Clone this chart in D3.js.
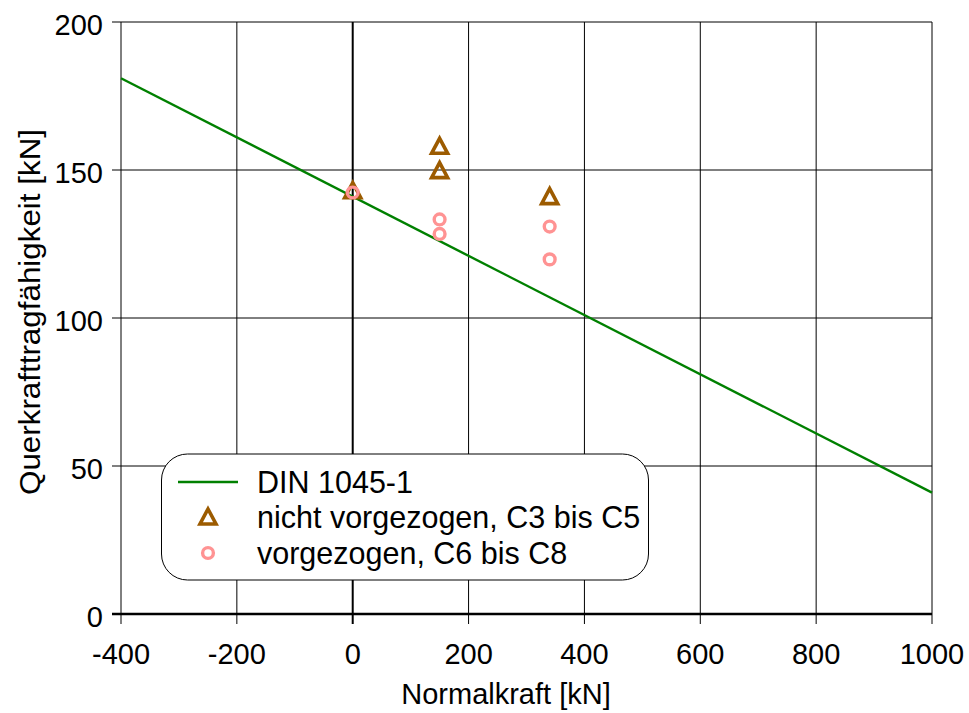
<!DOCTYPE html>
<html><head><meta charset="utf-8">
<script src="https://cdn.jsdelivr.net/npm/d3@7"></script>
<style>body{margin:0;background:#fff}svg{display:block}text{font-family:"Liberation Sans",Arial,sans-serif}</style>
</head><body>
<svg id="c" width="969" height="713"></svg>
<script>
const xTicks = [-400,-200,0,200,400,600,800,1000];
const yTicks = [0,50,100,150,200];
const dinN = [-400, 1000];
const dinV = [181, 41];
const triN = [0, 150, 150, 340];
const triV = [143, 158, 149.8, 141];
const cirN = [0, 150, 150, 340, 340];
const cirV = [142.4, 133.3, 128.4, 130.9, 119.8];
const legendLabels = ["DIN 1045-1", "nicht vorgezogen, C3 bis C5", "vorgezogen, C6 bis C8"];
const lineColor = "#008000", triColor = "#9c5b00", cirColor = "#ff9393";

const svg = d3.select("#c");
const x = d3.scaleLinear().domain([-400,1000]).range([121,932]);
const y = d3.scaleLinear().domain([0,200]).range([614,22]);
const FS = 29;

// grid
const g = svg.append("g");
g.selectAll(".vx").data(xTicks).join("line")
  .attr("x1",d=>x(d)).attr("x2",d=>x(d)).attr("y1",y(200)).attr("y2",y(0)+10)
  .attr("stroke","#000").attr("stroke-width",d=>d===0?2:1);
g.selectAll(".hy").data(yTicks).join("line")
  .attr("y1",d=>y(d)).attr("y2",d=>y(d)).attr("x1",x(-400)-9).attr("x2",x(1000))
  .attr("stroke","#000").attr("stroke-width",d=>d===0?2.5:1);

// axes labels
svg.append("g").selectAll("text").data(yTicks).join("text")
  .attr("x",103).attr("y",d=>y(d)+3).attr("dy","0.36em").attr("text-anchor","end")
  .attr("font-size",FS).text(d=>d);
svg.append("g").selectAll("text").data(xTicks).join("text")
  .attr("x",d=>x(d)).attr("y",654).attr("dy","0.36em").attr("text-anchor","middle")
  .attr("font-size",FS).text(d=>d);
svg.append("text").attr("x",506).attr("y",694).attr("dy","0.36em").attr("text-anchor","middle")
  .attr("font-size",FS).text("Normalkraft [kN]");
svg.append("text").attr("transform","translate(30,312) rotate(-90)").attr("dy","0.36em")
  .attr("text-anchor","middle").attr("font-size",FS)
  .attr("textLength",366).attr("lengthAdjust","spacingAndGlyphs").text("Querkrafttragfähigkeit [kN]");

// line
const line = d3.line().x((d,i)=>x(dinN[i])).y((d,i)=>y(dinV[i]));
svg.append("path").attr("d",line(dinN)).attr("fill","none").attr("stroke",lineColor).attr("stroke-width",2.4);

const triPath = (cx,cy)=>{const h=14,w=16;return `M${cx},${cy-h/2-1}L${cx+w/2},${cy+h/2}L${cx-w/2},${cy+h/2}Z`;};
svg.append("g").selectAll("path").data(triN).join("path")
  .attr("d",(d,i)=>triPath(x(d),y(triV[i])))
  .attr("fill","none").attr("stroke",triColor).attr("stroke-width",3.6).attr("stroke-linejoin","miter");
svg.append("g").selectAll("circle").data(cirN).join("circle")
  .attr("cx",d=>x(d)).attr("cy",(d,i)=>y(cirV[i])).attr("r",5.4)
  .attr("fill","none").attr("stroke",cirColor).attr("stroke-width",3.4);

// legend
const lg = svg.append("g");
lg.append("rect").attr("x",161.5).attr("y",454).attr("width",487).attr("height",126).attr("rx",26).attr("ry",26)
  .attr("fill","#fff").attr("stroke","#000").attr("stroke-width",1);
const rowsY = [482,517,553];
lg.append("line").attr("x1",178).attr("x2",238).attr("y1",rowsY[0]).attr("y2",rowsY[0]).attr("stroke",lineColor).attr("stroke-width",2.4);
lg.append("path").attr("d",triPath(208,rowsY[1])).attr("fill","none").attr("stroke",triColor).attr("stroke-width",3.6);
lg.append("circle").attr("cx",208).attr("cy",rowsY[2]).attr("r",5.4).attr("fill","none").attr("stroke",cirColor).attr("stroke-width",3.4);
lg.selectAll("text").data(legendLabels).join("text")
  .attr("x",257).attr("y",(d,i)=>rowsY[i]).attr("dy","0.36em").attr("font-size",30.5).text(d=>d);
</script>
</body></html>
